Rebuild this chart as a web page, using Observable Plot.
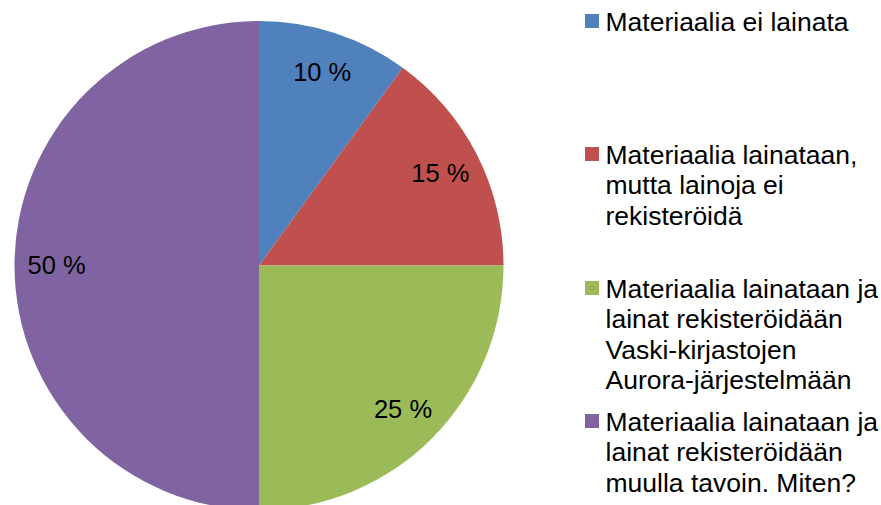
<!DOCTYPE html>
<html>
<head>
<meta charset="utf-8">
<script src="https://cdn.jsdelivr.net/npm/d3@7"></script>
<script src="https://cdn.jsdelivr.net/npm/@observablehq/plot@0.6"></script>
<style>
  html, body { margin: 0; padding: 0; background: #fff; }
  #chart svg { display: block; }
</style>
</head>
<body>
<div id="chart"></div>
<script>
// ---- data ----
const categories = [
  "Materiaalia ei lainata",
  "Materiaalia lainataan, mutta lainoja ei rekisteröidä",
  "Materiaalia lainataan ja lainat rekisteröidään Vaski-kirjastojen Aurora-järjestelmään",
  "Materiaalia lainataan ja lainat rekisteröidään muulla tavoin. Miten?"
];
const shares = [10, 15, 25, 50];
const shareLabels = ["10 %", "15 %", "25 %", "50 %"];
const legendLines = [
  ["Materiaalia ei lainata"],
  ["Materiaalia lainataan,", "mutta lainoja ei", "rekisteröidä"],
  ["Materiaalia lainataan ja", "lainat rekisteröidään", "Vaski-kirjastojen", "Aurora-järjestelmään"],
  ["Materiaalia lainataan ja", "lainat rekisteröidään", "muulla tavoin. Miten?"]
];
const colors = ["#4F81BD", "#C0504D", "#9BBB59", "#8064A2"];

// ---- layout ----
const W = 881, H = 505;
const CX = 259, CY = 265.5, R = 244.5, LABEL_R = 0.83 * R;
const LABEL_FS = 25.5, LEGEND_FS = 26.5;
const LEGEND_X = 605, SWATCH_X1 = 585, SWATCH_X2 = 599;
const legendFirstBaselines = [30, 163, 297, 430];
const LINE_STEP = 30.5;

const rows = categories.map((c, i) => ({category: c, value: shares[i], label: shareLabels[i]}));
const arcs = d3.pie().sort(null).value(d => d.value).startAngle(0).endAngle(2 * Math.PI)(rows);
const slices = arcs.map(a => {
  const mid = (a.startAngle + a.endAngle) / 2;
  return {
    category: a.data.category,
    label: a.data.label,
    startAngle: a.startAngle,
    endAngle: a.endAngle,
    lx: CX + LABEL_R * Math.sin(mid),
    ly: CY - LABEL_R * Math.cos(mid)
  };
});

const legendTextRows = [];
const legendSwatches = [];
categories.forEach((c, i) => {
  const b0 = legendFirstBaselines[i];
  legendSwatches.push({category: c, x1: SWATCH_X1, x2: SWATCH_X2, y1: b0 - 16, y2: b0 - 2});
  legendLines[i].forEach((line, j) => {
    legendTextRows.push({category: c, text: line, x: LEGEND_X, y: b0 + j * LINE_STEP});
  });
});

function pieMark(index, scales) {
  const arc = d3.arc().innerRadius(0).outerRadius(R);
  const g = d3.create("svg:g");
  const x0 = scales.x(CX), y0 = scales.y(CY);
  g.selectAll("path").data(slices).join("path")
    .attr("transform", `translate(${x0},${y0})`)
    .attr("d", d => arc(d))
    .attr("fill", d => scales.color ? scales.color(d.category) : colors[categories.indexOf(d.category)]);
  return g.node();
}

const chart = Plot.plot({
  width: W,
  height: H,
  margin: 0,
  style: {fontFamily: "Arial, 'Liberation Sans', sans-serif", background: "#fff", overflow: "hidden"},
  x: {type: "linear", domain: [0, W], range: [0, W], axis: null},
  y: {type: "linear", domain: [0, H], range: [0, H], axis: null},
  color: {type: "ordinal", domain: categories, range: colors},
  marks: [
    pieMark,
    Plot.text(slices, {x: "lx", y: "ly", text: "label", fill: "#000", fontSize: LABEL_FS, textAnchor: "middle"}),
    Plot.rect(legendSwatches, {x1: "x1", x2: "x2", y1: "y1", y2: "y2", fill: "category"}),
    Plot.text(legendTextRows, {x: "x", y: "y", text: "text", fill: "#000", fontSize: LEGEND_FS, textAnchor: "start", lineAnchor: "bottom"})
  ]
});
document.getElementById("chart").appendChild(chart);
</script>
</body>
</html>
